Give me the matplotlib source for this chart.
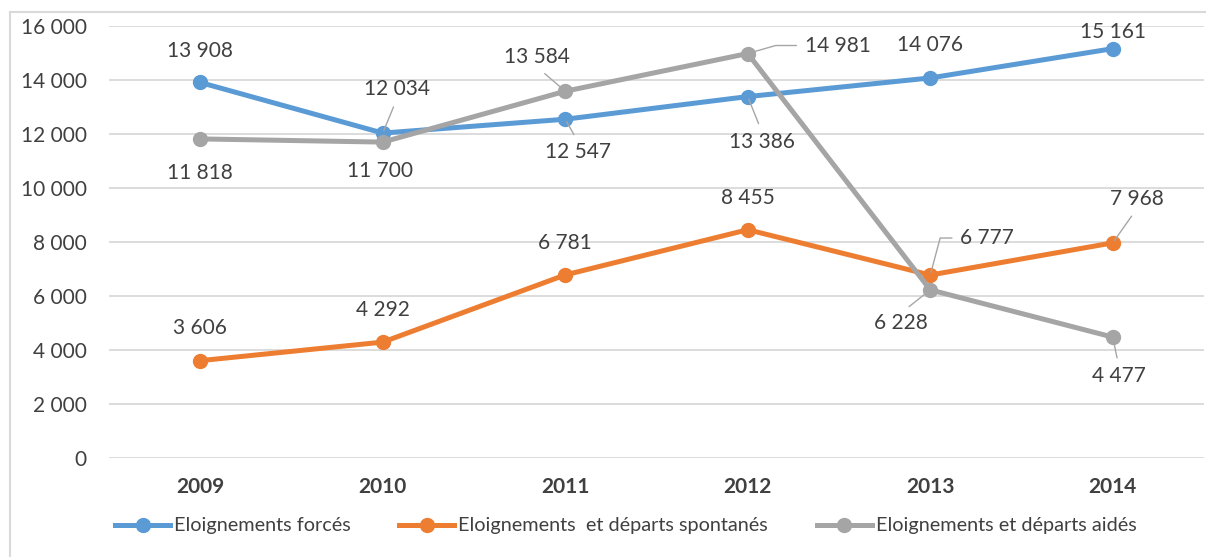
import matplotlib.pyplot as plt
from matplotlib.lines import Line2D

plt.rcParams['font.family'] = ['Lato', 'DejaVu Sans']

# data
years = ['2009', '2010', '2011', '2012', '2013', '2014']
forces = [13908, 12034, 12547, 13386, 14076, 15161]
spontanes = [3606, 4292, 6781, 8455, 6777, 7968]
aides = [11818, 11700, 13584, 14981, 6228, 4477]
series_names = ['Eloignements forcés',
                'Eloignements  et départs spontanés',
                'Eloignements et départs aidés']
y_ticks = [0, 2000, 4000, 6000, 8000, 10000, 12000, 14000, 16000]

colors = ['#5B9BD5', '#ED7D31', '#A5A5A5']
text_col = '#404040'

# label offsets in pixels (dx, dy) and whether a leader line is drawn
label_pos = [
    [(0, 31, None), (14, 44, (0.5, 0)), (13, -33, (0.5, 1)), (14, -45, (0.5, 1)), (0, 33, None), (0, 17, None)],
    [(0, 33, None), (0, 32, None), (0, 32, None), (0, 32, None), (57, 37, 'elbow'), (24, 44, (0.5, 0))],
    [(0, -34, None), (-3, -29, None), (-28, 34, (0.5, 0)), (90, 8, 'elbow'), (-29, -33, (0.5, 1)), (6, -39, (0.5, 1))],
]


def fmt(v):
    return f'{v:,}'.replace(',', ' ')


fig = plt.figure(figsize=(12.06, 5.57), dpi=100)
ax = fig.add_axes([109 / 1206, 1 - 458 / 557, 1095 / 1206, 432 / 557])

x = list(range(len(years)))
all_series = [forces, spontanes, aides]
for vals, col, name in zip(all_series, colors, series_names):
    ax.plot(x, vals, color=col, lw=3.6, marker='o', ms=10, label=name,
            solid_capstyle='round', zorder=3)

for vals, offs in zip(all_series, label_pos):
    for xi, v, (dx, dy, lead) in zip(x, vals, offs):
        kw = dict(xy=(xi, v), xytext=(dx, dy), textcoords='offset pixels',
                  ha='center', va='center', fontsize=15, color=text_col, zorder=5)
        if lead is None:
            ax.annotate(fmt(v), **kw)
        elif lead == 'elbow':
            ax.annotate(fmt(v), **kw,
                        arrowprops=dict(arrowstyle='-', color='#A6A6A6', lw=1.0,
                                        relpos=(0, 0.5), shrinkA=4, shrinkB=2,
                                        connectionstyle='angle,angleA=180,angleB=75,rad=0'
                                        if dx < 70 else 'angle,angleA=180,angleB=16,rad=0'))
        else:
            ax.annotate(fmt(v), **kw,
                        arrowprops=dict(arrowstyle='-', color='#A6A6A6', lw=1.0,
                                        relpos=lead, shrinkA=4, shrinkB=2))

ax.set_xlim(-0.5, len(years) - 0.5)
ax.set_ylim(0, 16000)
ax.set_yticks(y_ticks)
ax.set_yticklabels([fmt(t) for t in y_ticks])
ax.set_xticks(x)
ax.set_xticklabels(years, fontweight='bold')
ax.tick_params(axis='y', length=0, labelsize=15, labelcolor=text_col, pad=16)
ax.tick_params(axis='x', length=0, labelsize=15, labelcolor=text_col, pad=14)
ax.grid(axis='y', color='#D9D9D9', lw=1.3)
ax.set_axisbelow(True)
for s in ax.spines.values():
    s.set_visible(False)

handles = [Line2D([], [], color=c, lw=3.6, marker='o', ms=10) for c in colors]
fig.legend(handles, series_names, loc='center left', bbox_to_anchor=(115 / 1206, 1 - 526 / 557),
           ncol=3, frameon=False, fontsize=14.3, labelcolor=text_col, handlelength=2.77,
           handletextpad=0.2, columnspacing=2.45, borderpad=0, borderaxespad=0)

# outer chart border (only left/top visible)
fig.add_artist(plt.Line2D([10 / 1206, 10 / 1206], [0, 1 - 12 / 557], color='#D9D9D9', lw=1.5))
fig.add_artist(plt.Line2D([10 / 1206, 1], [1 - 12 / 557, 1 - 12 / 557], color='#D9D9D9', lw=1.5))

fig.savefig('out.png', dpi=100)
